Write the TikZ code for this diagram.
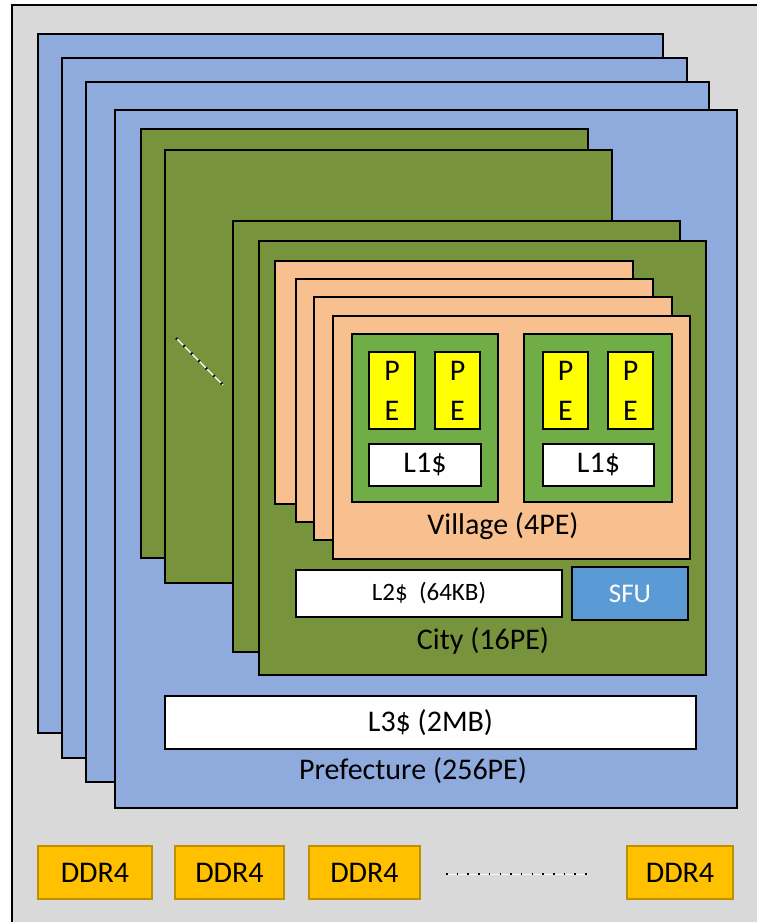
\documentclass[tikz,border=0pt]{standalone}
\usepackage{fontspec}
\setmainfont{Carlito}
\usetikzlibrary{fit}
\definecolor{bgc}{HTML}{D9D9D9}
\definecolor{prefc}{HTML}{8FAADC}
\definecolor{cityc}{HTML}{77933C}
\definecolor{villc}{HTML}{F9C08F}
\definecolor{corec}{HTML}{70AD47}
\definecolor{pec}{HTML}{FFFF00}
\definecolor{sfuc}{HTML}{5B9BD5}
\definecolor{ddrc}{HTML}{FFC000}
\definecolor{ddrb}{HTML}{BF9000}
\begin{document}
\begin{tikzpicture}[x=1pt,y=-1pt,
  box/.style={draw=black, line width=2pt, inner sep=0pt},
  pref/.style={box, fill=prefc},
  city/.style={box, fill=cityc},
  vill/.style={box, fill=villc},
  core/.style={box, fill=corec},
  pebox/.style={box, fill=pec},
  cache/.style={box, fill=white},
  ddr/.style={draw=ddrb, line width=1.5pt, fill=ddrc, inner sep=0pt},
  lbl/.style={inner sep=0pt, font=\fontsize{30}{36}\selectfont},
  pelbl/.style={inner sep=0pt, align=center, font=\fontsize{30}{40}\selectfont}]
\useasboundingbox (0,0) rectangle (757,922);
\node[draw=black, line width=1.5pt, fill=bgc, inner sep=0pt, fit={(12,5) (775,940)}] (frame) {};
% Prefectures
\node[pref, fit={(38,34) (663,733)}] (pref1) {};
\node[pref, fit={(62,58) (687,758)}] (pref2) {};
\node[pref, fit={(86,82) (709,782)}] (pref3) {};
\node[pref, fit={(115,110) (737,808)}] (pref4) {};
% Cities
\node[city, fit={(141,129) (588,558)}] (city1) {};
\node[city, fit={(165,150) (612,583)}] (city2) {};
\coordinate (d1) at (176,338);
\coordinate (d2) at (223,385);
\draw[white, line width=1.2pt] (d1) -- (d2);
\draw[black, line width=2.6pt, dash pattern=on 1.6pt off 9pt] (d1) -- (d2);
\node[city, fit={(233,221) (680,652)}] (city3) {};
\node[city, fit={(259,241) (706,675)}] (city4) {};
% Villages
\node[vill, fit={(275,261) (633,504)}] (vill1) {};
\node[vill, fit={(296,279) (653,522)}] (vill2) {};
\node[vill, fit={(314,297) (672,540)}] (vill3) {};
\node[vill, fit={(333,316) (690,559)}] (vill4) {};
% Cores
\node[core, fit={(352,334) (498,502)}] (core1) {};
\node[core, fit={(524,334) (672,502)}] (core2) {};
\node[pebox, fit={(369,352) (415,429)}] (pe1) {};
\node[pebox, fit={(435,352) (480,429)}] (pe2) {};
\node[pebox, fit={(543,352) (588,429)}] (pe3) {};
\node[pebox, fit={(608,352) (653,429)}] (pe4) {};
\node[pelbl] (pe1t) at (pe1.center) {P\\E};
\node[pelbl] (pe2t) at (pe2.center) {P\\E};
\node[pelbl] (pe3t) at (pe3.center) {P\\E};
\node[pelbl] (pe4t) at (pe4.center) {P\\E};
\node[cache, fit={(369,444) (481,486)}] (l1a) {};
\node[cache, fit={(543,444) (654,486)}] (l1b) {};
\node[lbl] (l1at) at (l1a.center) {L1\$};
\node[lbl] (l1bt) at (l1b.center) {L1\$};
\node[lbl] (villlbl) at (503,526) {Village (4PE)};
% City contents
\node[cache, fit={(296,570) (562,617)}] (l2) {};
\node[lbl, font=\fontsize{25}{30}\selectfont] (l2t) at (l2.center) {L2\$ \ (64KB)};
\node[box, fill=sfuc, fit={(572,567) (688,620)}] (sfu) {};
\node[lbl, text=white, font=\fontsize{27}{32}\selectfont] (sfut) at (sfu.center) {SFU};
\node[lbl] (citylbl) at (483,641) {City (16PE)};
% Prefecture contents
\node[cache, fit={(165,696) (696,749)}] (l3) {};
\node[lbl] (l3t) at (l3.center) {L3\$ (2MB)};
\node[lbl] (preflbl) at (413,771) {Prefecture (256PE)};
% DDR4
\node[ddr, fit={(38,846) (152,899)}] (ddr1) {};
\node[ddr, fit={(175,846) (284,899)}] (ddr2) {};
\node[ddr, fit={(309,846) (420,899)}] (ddr3) {};
\node[ddr, fit={(627,846) (733,899)}] (ddr4) {};
\node[lbl] (ddr1t) at (ddr1.center) {DDR4};
\node[lbl] (ddr2t) at (ddr2.center) {DDR4};
\node[lbl] (ddr3t) at (ddr3.center) {DDR4};
\node[lbl] (ddr4t) at (ddr4.center) {DDR4};
\coordinate (e1) at (446,874);
\coordinate (e2) at (588,874);
\draw[white!95!gray, line width=1pt] (e1) -- (e2);
\draw[black, line width=2.4pt, dash pattern=on 1.5pt off 9.2pt] (e1) -- (e2);
\end{tikzpicture}
\end{document}
